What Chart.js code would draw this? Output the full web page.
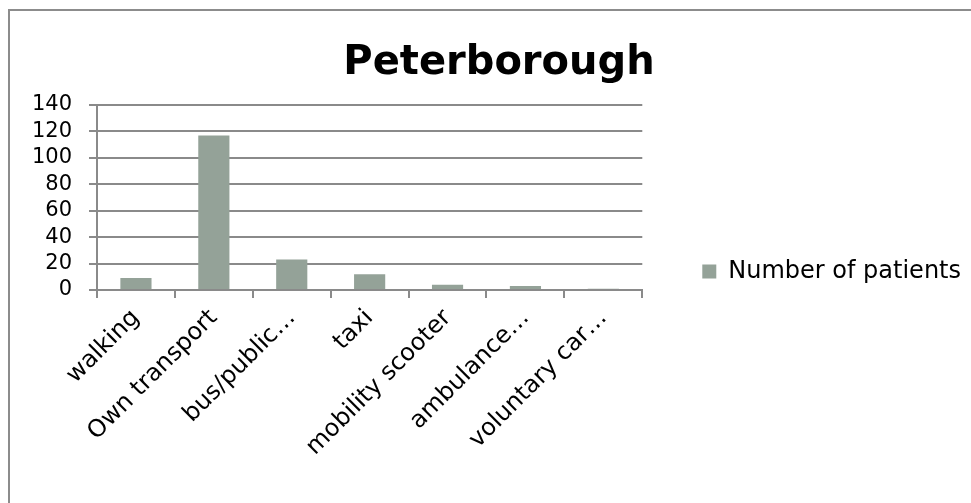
<!DOCTYPE html>
<html>
<head>
<meta charset="utf-8">
<script src="https://cdn.jsdelivr.net/npm/chart.js@4.4.1/dist/chart.umd.min.js"></script>
<style>
  html, body { margin: 0; padding: 0; background: #fff; }
  #wrap { position: relative; width: 971px; height: 503px; overflow: hidden; }
  #frame { position: absolute; left: 8px; top: 9px; width: 1100px; height: 700px;
           border: 2px solid #8c8c8c; box-sizing: border-box; pointer-events: none; }
  canvas { position: absolute; left: 0; top: 0; }
</style>
</head>
<body>
<div id="wrap">
  <canvas id="chart" width="971" height="503"></canvas>
  <div id="frame"></div>
</div>
<script>
// chart values
var categories = ['walking', 'Own transport', 'bus/public\u2026', 'taxi', 'mobility scooter', 'ambulance\u2026', 'voluntary car\u2026'];
var patients = [9, 117, 23, 12, 4, 3, 1];
var yTicks = [0, 20, 40, 60, 80, 100, 120, 140];

var fontFam = "'DejaVu Sans', sans-serif";
var gridCol = '#8a8a8a';
var barCol = 'rgb(148, 162, 152)';

var chart = new Chart(document.getElementById('chart'), {
  type: 'bar',
  data: {
    labels: categories,
    datasets: [{
      label: 'Number of patients',
      backgroundColor: barCol,
      borderWidth: 0,
      data: patients,
      categoryPercentage: 1,
      barPercentage: 0.4
    }]
  },
  options: {
    responsive: false,
    animation: false,
    layout: { padding: { left: 27, right: 0, top: 40, bottom: 0 } },
    plugins: {
      title: {
        display: true,
        text: 'Peterborough',
        color: '#000',
        font: { family: fontFam, size: 40, weight: 'bold' },
        padding: { top: 0, bottom: 17 }
      },
      legend: {
        position: 'right',
        maxWidth: 400,
        labels: {
          color: '#000',
          font: { family: fontFam, size: 24 },
          boxWidth: 14,
          boxHeight: 14,
          padding: 60
        }
      },
      tooltip: { enabled: false }
    },
    scales: {
      x: {
        offset: true,
        afterFit: function (axis) { axis.height = 213; },
        grid: { display: true, drawOnChartArea: false, color: gridCol, lineWidth: 2, tickLength: 8, offset: true },
        border: { display: true, color: gridCol, width: 2 },
        ticks: { color: '#000', font: { family: fontFam, size: 24 }, minRotation: 45, maxRotation: 45, padding: 6, autoSkip: false }
      },
      y: {
        min: 0,
        max: 140,
        afterFit: function (axis) { axis.width = 70; },
        afterBuildTicks: function (axis) { axis.ticks = yTicks.map(function (v) { return { value: v }; }); },
        grid: { color: gridCol, lineWidth: 2, tickLength: 8 },
        border: { display: true, color: gridCol, width: 2 },
        ticks: { color: '#000', font: { family: fontFam, size: 21 }, padding: 17, autoSkip: false }
      }
    }
  }
});
</script>
</body>
</html>
